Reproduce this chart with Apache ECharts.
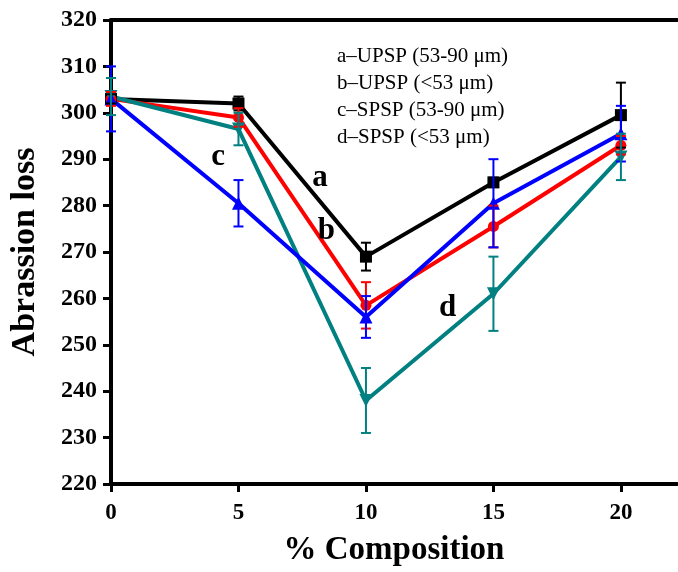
<!DOCTYPE html>
<html>
<head>
<meta charset="utf-8">
<script src="https://cdn.jsdelivr.net/npm/echarts@6/dist/echarts.min.js"></script>
<style>
  html, body { margin: 0; padding: 0; background: #fff; }
  #chart { width: 678px; height: 572px; }
</style>
</head>
<body>
<div id="chart"></div>
<script>
// composition (%)
const xValues = [0, 5, 10, 15, 20];
// a - UPSP (53-90 um)
const seriesA = [303, 302, 269, 285, 299.5];
const errA = [1, 1.5, 3, 1, 7];
// b - UPSP (<53 um)
const seriesB = [303, 299, 258.5, 275.5, 293];
const errB = [1.5, 2, 5, 4.5, 2];
// c - SPSP (53-90 um)
const seriesC = [303, 280.5, 256, 280.5, 295.5];
const errC = [7, 5, 4.5, 9.5, 6];
// d - SPSP (<53 um)
const seriesD = [303.5, 296.5, 238, 261, 290.5];
const errD = [4, 3.5, 7, 8, 5];

const legendLines = [
    'a\u2013UPSP (53-90 \u03bcm)',
    'b\u2013UPSP (<53 \u03bcm)',
    'c\u2013SPSP (53-90 \u03bcm)',
    'd\u2013SPSP (<53 \u03bcm)'
];
// curve letters placed in data units [x, y]
const letterLabels = [
    { text: 'a', pos: [8.2, 286] },
    { text: 'b', pos: [8.45, 274.5] },
    { text: 'c', pos: [4.2, 290.5] },
    { text: 'd', pos: [13.2, 258] }
];

const serif = '"Liberation Serif", "DejaVu Serif", serif';

function pairs(ys) {
    return xValues.map((x, i) => [x, ys[i]]);
}

function errorSeries(ys, errs, color) {
    return {
        type: 'custom',
        z: 5,
        data: xValues.map((x, i) => [x, ys[i] - errs[i], ys[i] + errs[i]]),
        renderItem: function (params, api) {
            const lo = api.coord([api.value(0), api.value(1)]);
            const hi = api.coord([api.value(0), api.value(2)]);
            const w = 5;
            const style = { stroke: color, lineWidth: 2 };
            return {
                type: 'group',
                children: [
                    { type: 'line', shape: { x1: lo[0], y1: lo[1], x2: hi[0], y2: hi[1] }, style: style },
                    { type: 'line', shape: { x1: lo[0] - w, y1: lo[1], x2: lo[0] + w, y2: lo[1] }, style: style },
                    { type: 'line', shape: { x1: hi[0] - w, y1: hi[1], x2: hi[0] + w, y2: hi[1] }, style: style }
                ]
            };
        }
    };
}

function lineSeries(ys, color, symbol, size, rotate) {
    return {
        type: 'line',
        data: pairs(ys),
        symbol: symbol,
        symbolSize: size,
        symbolRotate: rotate || 0,
        showAllSymbol: true,
        lineStyle: { color: color, width: 4 },
        itemStyle: { color: color },
        z: 4
    };
}

let chartDom = document.getElementById('chart');
let myChart = echarts.init(chartDom);

const letters = {
    type: 'scatter',
    data: [],
    silent: true,
    markPoint: {
        symbol: 'circle',
        symbolSize: 0,
        label: {
            show: true,
            formatter: '{b}',
            color: '#000',
            fontFamily: serif,
            fontWeight: 'bold',
            fontSize: 31
        },
        data: letterLabels.map(l => ({ name: l.text, coord: l.pos }))
    }
};

let option = {
    animation: false,
    backgroundColor: '#fff',
    grid: { left: 108, right: 1, top: 20, bottom: 85 },
    xAxis: [{
        type: 'value',
        min: 0,
        max: 22.2,
        interval: 5,
        name: '% Composition',
        nameLocation: 'middle',
        nameGap: 50,
        nameTextStyle: { fontFamily: serif, fontWeight: 'bold', fontSize: 33, color: '#000' },
        axisLine: { show: true, lineStyle: { color: '#000', width: 4 } },
        axisTick: { show: true, length: 8, lineStyle: { color: '#000', width: 3 } },
        axisLabel: {
            color: '#000', fontFamily: serif, fontWeight: 'bold', fontSize: 23, margin: 18,
            showMaxLabel: false,
            formatter: v => (v % 5 === 0 ? String(v) : '')
        },
        splitLine: { show: false }
    }, {
        type: 'value',
        position: 'top',
        min: 0,
        max: 22.2,
        axisLine: { show: true, lineStyle: { color: '#000', width: 4 } },
        axisTick: { show: false },
        axisLabel: { show: false },
        splitLine: { show: false }
    }],
    yAxis: {
        type: 'value',
        min: 220,
        max: 320,
        interval: 10,
        name: 'Abrassion loss',
        nameLocation: 'middle',
        nameGap: 69,
        nameTextStyle: { fontFamily: serif, fontWeight: 'bold', fontSize: 34, color: '#000' },
        axisLine: { show: true, lineStyle: { color: '#000', width: 4 } },
        axisTick: { show: true, length: 8, lineStyle: { color: '#000', width: 3 } },
        axisLabel: { color: '#000', fontFamily: serif, fontWeight: 'bold', fontSize: 24, margin: 14 },
        splitLine: { show: false }
    },
    graphic: legendLines.map((t, i) => ({
        type: 'text',
        left: 337,
        top: 46 + i * 27,
        style: { text: t, fill: '#000', font: '21px ' + serif }
    })),
    series: [
        lineSeries(seriesA, '#000000', 'rect', 12),
        lineSeries(seriesB, '#ff0000', 'circle', 11),
        lineSeries(seriesD, '#008080', 'triangle', 13, 180),
        lineSeries(seriesC, '#0000ff', 'triangle', 13),
        errorSeries(seriesA, errA, '#000000'),
        errorSeries(seriesB, errB, '#ff0000'),
        errorSeries(seriesC, errC, '#0000ff'),
        errorSeries(seriesD, errD, '#008080'),
        letters
    ]
};
option && myChart.setOption(option);
</script>
</body>
</html>
